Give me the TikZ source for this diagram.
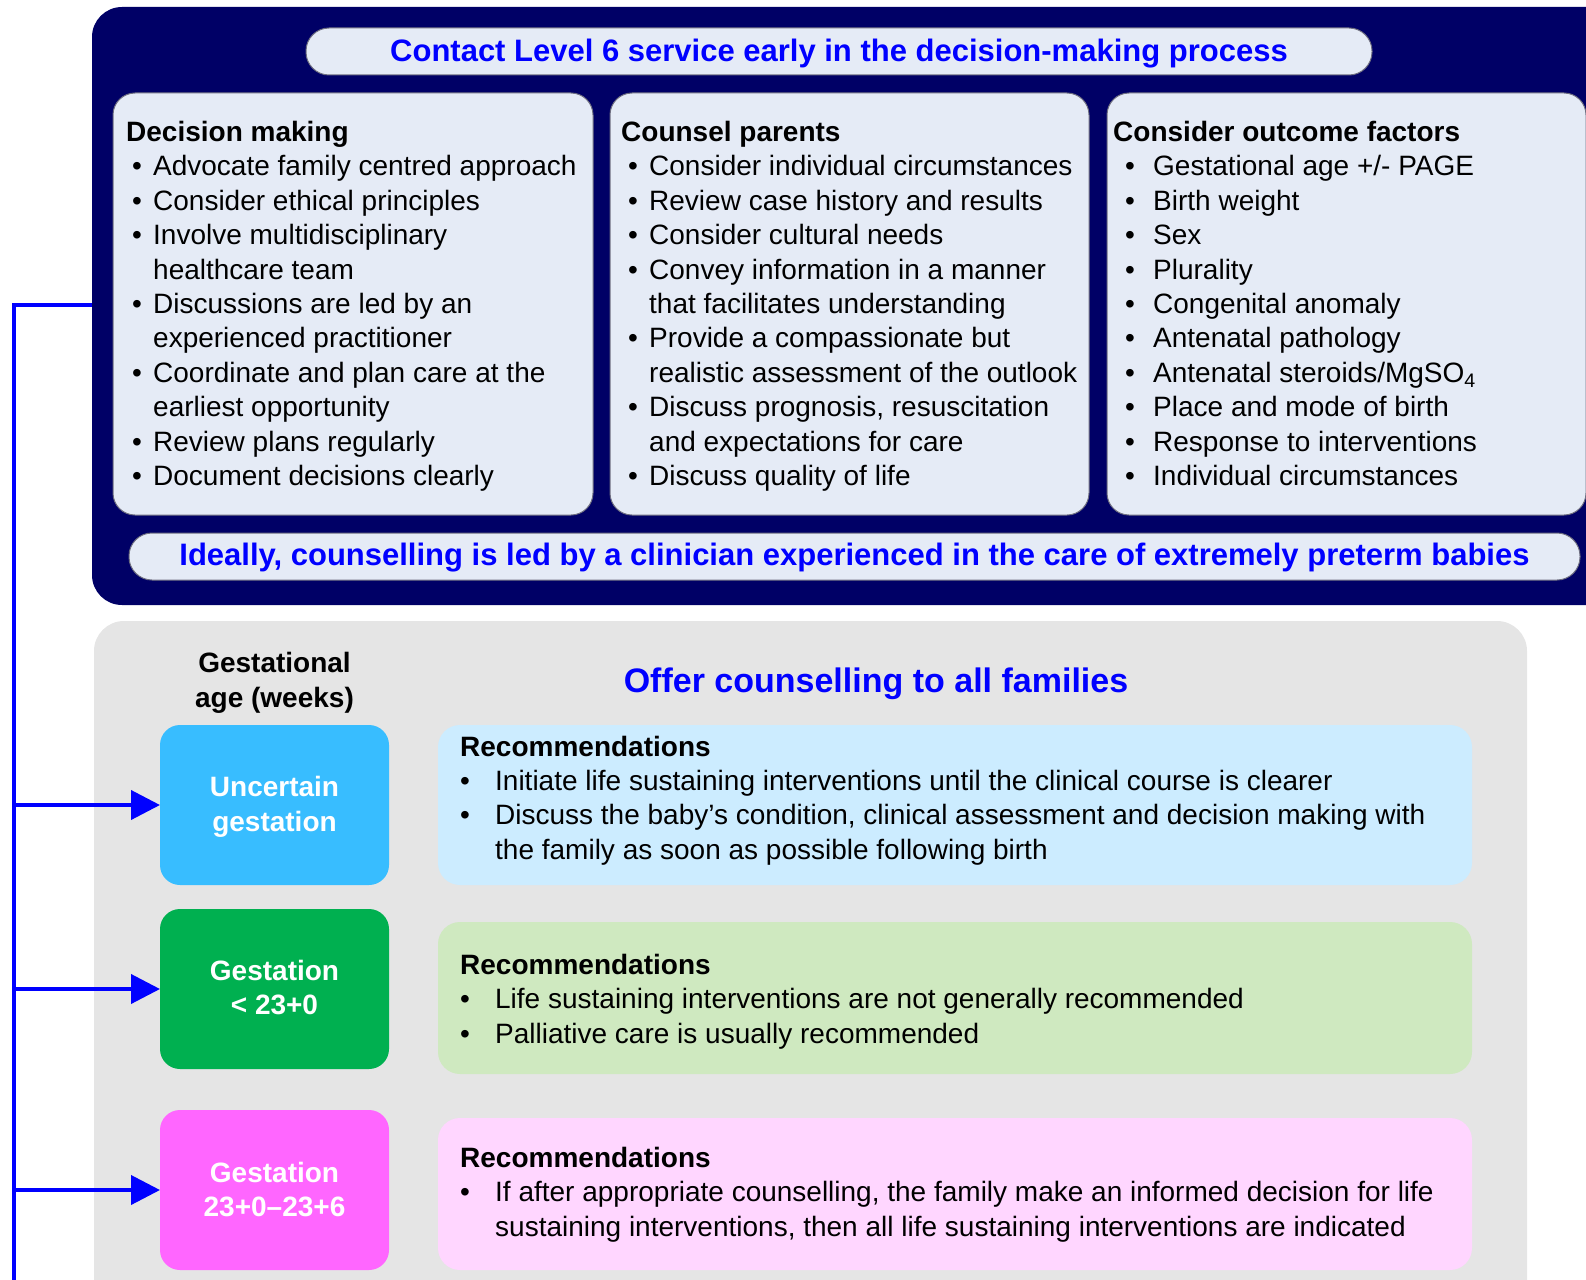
\documentclass[tikz,border=0pt]{standalone}
\usepackage{fontspec}
\setmainfont{Liberation Sans}
\usetikzlibrary{arrows.meta}

\definecolor{navy}{HTML}{000066}
\definecolor{infofill}{HTML}{E5EBF6}
\definecolor{edgegrey}{HTML}{6E6E80}
\definecolor{panelgrey}{HTML}{E5E5E5}
\definecolor{linkblue}{HTML}{0000FF}
\definecolor{uncfill}{HTML}{38BDFF}
\definecolor{lowfill}{HTML}{00B050}
\definecolor{midfill}{HTML}{FF66FF}
\definecolor{recblue}{HTML}{CCECFF}
\definecolor{recgreen}{HTML}{CFE9C0}
\definecolor{recpink}{HTML}{FFD6FF}

% type sizes (1pt = 1 unit of the drawing)
\newcommand\bodysize{\fontsize{28}{34.4}\selectfont}
\newcommand\bannersize{\fontsize{31}{36}\selectfont}
\newcommand\offersize{\fontsize{34}{40}\selectfont}

% bullet line: width of the bullet column, item text
\newcommand\itm[2]{\makebox[#1][l]{\textbullet}#2}

\begin{document}
\begin{tikzpicture}[x=1pt,y=-1pt,
  sheet/.style={inner sep=0pt, outer sep=0pt},
  navybox/.style={sheet, fill=navy, rounded corners=30pt},
  greybox/.style={sheet, fill=panelgrey, rounded corners=30pt},
  infobox/.style={sheet, fill=infofill, draw=edgegrey, line width=1pt, rounded corners=22pt},
  pill/.style={sheet, fill=infofill, draw=edgegrey, line width=1pt, rounded corners=23pt},
  agebox/.style={sheet, rounded corners=20pt},
  agetext/.style={sheet, text=white, font=\bodysize\bfseries, align=center},
  recbox/.style={sheet, rounded corners=22pt},
  listtext/.style={anchor=base west, inner sep=0pt, font=\bodysize},
  banner/.style={sheet, text=linkblue, font=\bannersize\bfseries},
  trunk/.style={draw=linkblue, line width=4pt},
  arrowlink/.style={trunk, -{Triangle[length=29pt,width=29pt]}},
]
\useasboundingbox (0,0) rectangle (1586,1279);
\clip (0,0) rectangle (1586,1279);

% ---------- upper panel ----------
\node[navybox, minimum width=1528pt, minimum height=598pt] (navy) at (856,306) {};
\node[pill, minimum width=1066pt, minimum height=47pt] (toppill) at (839,51.5) {};
\node[banner] (toptext) at (839,54) {Contact Level 6 service early in the decision-making process};

\node[infobox, minimum width=480pt, minimum height=422pt] (dmbox) at (353,304) {};
\node[infobox, minimum width=479pt, minimum height=422pt] (cpbox) at (849.5,304) {};
\node[infobox, minimum width=479pt, minimum height=422pt] (ofbox) at (1346.5,304) {};

\node[listtext] (dmtext) at (126,141.5) {\parbox[t]{470pt}{%
{\bfseries Decision making}\\
\hspace*{6pt}\itm{21pt}{Advocate family centred approach}\\
\hspace*{6pt}\itm{21pt}{Consider ethical principles}\\
\hspace*{6pt}\itm{21pt}{Involve multidisciplinary}\\
\hspace*{27pt}healthcare team\\
\hspace*{6pt}\itm{21pt}{Discussions are led by an}\\
\hspace*{27pt}experienced practitioner\\
\hspace*{6pt}\itm{21pt}{Coordinate and plan care at the}\\
\hspace*{27pt}earliest opportunity\\
\hspace*{6pt}\itm{21pt}{Review plans regularly}\\
\hspace*{6pt}\itm{21pt}{Document decisions clearly}}};

\node[listtext] (cptext) at (621,141.5) {\parbox[t]{470pt}{%
{\bfseries Counsel parents}\\
\hspace*{7pt}\itm{21pt}{Consider individual circumstances}\\
\hspace*{7pt}\itm{21pt}{Review case history and results}\\
\hspace*{7pt}\itm{21pt}{Consider cultural needs}\\
\hspace*{7pt}\itm{21pt}{Convey information in a manner}\\
\hspace*{28pt}that facilitates understanding\\
\hspace*{7pt}\itm{21pt}{Provide a compassionate but}\\
\hspace*{28pt}realistic assessment of the outlook\\
\hspace*{7pt}\itm{21pt}{Discuss prognosis, resuscitation}\\
\hspace*{28pt}and expectations for care\\
\hspace*{7pt}\itm{21pt}{Discuss quality of life}}};

\node[listtext] (oftext) at (1113,141.5) {\parbox[t]{470pt}{%
{\bfseries Consider outcome factors}\\
\hspace*{12pt}\itm{28pt}{Gestational age +/- PAGE}\\
\hspace*{12pt}\itm{28pt}{Birth weight}\\
\hspace*{12pt}\itm{28pt}{Sex}\\
\hspace*{12pt}\itm{28pt}{Plurality}\\
\hspace*{12pt}\itm{28pt}{Congenital anomaly}\\
\hspace*{12pt}\itm{28pt}{Antenatal pathology}\\
\hspace*{12pt}\itm{28pt}{Antenatal steroids/MgSO\textsubscript{4}}\\
\hspace*{12pt}\itm{28pt}{Place and mode of birth}\\
\hspace*{12pt}\itm{28pt}{Response to interventions}\\
\hspace*{12pt}\itm{28pt}{Individual circumstances}}};

\node[pill, minimum width=1451pt, minimum height=47pt] (botpill) at (854.5,556.5) {};
\node[banner] (bottext) at (854.5,558) {Ideally, counselling is led by a clinician experienced in the care of extremely preterm babies};

% ---------- lower panel ----------
\node[greybox, minimum width=1433pt, minimum height=699pt] (grey) at (810.5,970.5) {};
\node[sheet, font=\bodysize\bfseries, align=center] (agehead) at (274.5,683) {Gestational\\age (weeks)};
\node[sheet, text=linkblue, font=\offersize\bfseries] (offer) at (876,684) {Offer counselling to all families};

\node[agebox, fill=uncfill, minimum width=229pt, minimum height=160pt] (unc) at (274.5,805) {};
\node[agetext] (unctext) at (274.5,807) {Uncertain\\gestation};
\node[agebox, fill=lowfill, minimum width=229pt, minimum height=160pt] (low) at (274.5,989) {};
\node[agetext] (lowtext) at (274.5,987.5) {Gestation\\< 23+0};
\node[agebox, fill=midfill, minimum width=229pt, minimum height=160pt] (mid) at (274.5,1190) {};
\node[agetext] (midtext) at (274.5,1189.5) {Gestation\\23+0–23+6};

\node[recbox, fill=recblue, minimum width=1034pt, minimum height=160pt] (recA) at (955,805) {};
\node[listtext] (recAtext) at (460,756) {\parbox[t]{1000pt}{%
{\bfseries Recommendations}\\
\itm{35pt}{Initiate life sustaining interventions until the clinical course is clearer}\\
\itm{35pt}{Discuss the baby’s condition, clinical assessment and decision making with}\\
\hspace*{35pt}the family as soon as possible following birth}};

\node[recbox, fill=recgreen, minimum width=1034pt, minimum height=152pt] (recB) at (955,998) {};
\node[listtext] (recBtext) at (460,974.5) {\parbox[t]{1000pt}{%
{\bfseries Recommendations}\\
\itm{35pt}{Life sustaining interventions are not generally recommended}\\
\itm{35pt}{Palliative care is usually recommended}}};

\node[recbox, fill=recpink, minimum width=1034pt, minimum height=152pt] (recC) at (955,1194) {};
\node[listtext] (recCtext) at (460,1167.5) {\parbox[t]{1000pt}{%
{\bfseries Recommendations}\\
\itm{35pt}{If after appropriate counselling, the family make an informed decision for life}\\
\hspace*{35pt}sustaining interventions, then all life sustaining interventions are indicated}};

% ---------- connectors ----------
\coordinate (trunkend) at (14,1300);
\draw[trunk] (navy.west |- 0,305) -| (trunkend);
\draw[arrowlink] (trunkend |- unc.west) -- (unc.west);
\draw[arrowlink] (trunkend |- low.west) -- (low.west);
\draw[arrowlink] (trunkend |- mid.west) -- (mid.west);
\end{tikzpicture}
\end{document}
